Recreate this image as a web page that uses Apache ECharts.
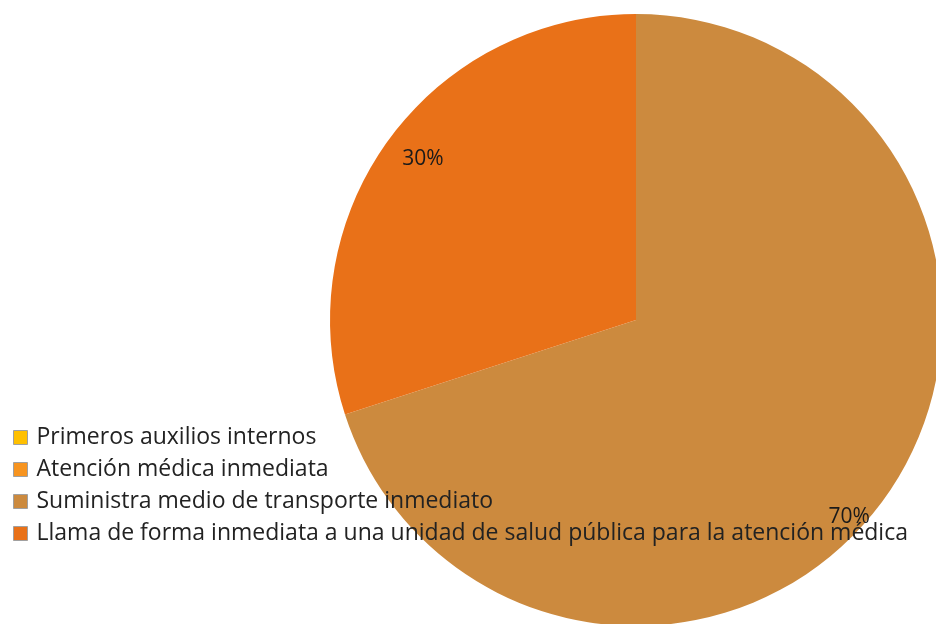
<!DOCTYPE html>
<html>
<head>
<meta charset="utf-8">
<script src="https://cdn.jsdelivr.net/npm/echarts@6/dist/echarts.min.js"></script>
<style>
  html, body { margin: 0; padding: 0; background: #fff; }
  #chart { width: 936px; height: 624px; }
</style>
</head>
<body>
<div id="chart"></div>
<script>
// categorias y valores (porcentaje)
var categorias = ['Primeros auxilios internos', 'Atención médica inmediata', 'Suministra medio de transporte inmediato', 'Llama de forma inmediata a una unidad de salud pública para la atención médica']
var valores = [0, 0, 70, 30]
var colores = ['#FFC000', '#F7941F', '#CC8A3E', '#E97118']

var datos = categorias.map(function (nombre, i) {
  return { name: nombre, value: valores[i], itemStyle: { color: colores[i] } }
})

var chart = echarts.init(document.getElementById('chart'))
chart.setOption({
  animation: false,
  legend: {
    orient: 'vertical',
    left: 8,
    top: 421,
    itemWidth: 14,
    itemHeight: 14,
    itemGap: 9,
    icon: 'rect',
    itemStyle: { borderColor: '#a0a0a0', borderWidth: 1 },
    textStyle: { fontFamily: 'Open Sans', fontSize: 23, color: '#222', padding: [0, 0, 0, 4] },
    data: categorias
  },
  series: [
    {
      type: 'pie',
      center: [636, 320],
      radius: [0, 306],
      startAngle: 90,
      clockwise: true,
      silent: true,
      label: { show: false },
      labelLine: { show: false },
      data: datos
    },
    {
      // capa solo para las etiquetas de porcentaje
      type: 'pie',
      center: [636, 320],
      radius: [258, 300],
      startAngle: 90,
      clockwise: true,
      silent: true,
      legendHoverLink: false,
      itemStyle: { color: 'transparent' },
      label: {
        show: true,
        position: 'inside',
        formatter: function (p) { return p.value > 0 ? p.value + '%' : '' },
        fontFamily: 'Open Sans',
        fontSize: 21,
        color: '#1a1a1a'
      },
      labelLayout: function (p) {
        if (p.dataIndex === 2) return { dx: -15, dy: 31 }
        if (p.dataIndex === 3) return { dx: 15, dy: 5 }
        return {}
      },
      data: categorias.map(function (nombre, i) {
        return { name: nombre + ' ', value: valores[i] }
      })
    }
  ]
})
</script>
</body>
</html>
